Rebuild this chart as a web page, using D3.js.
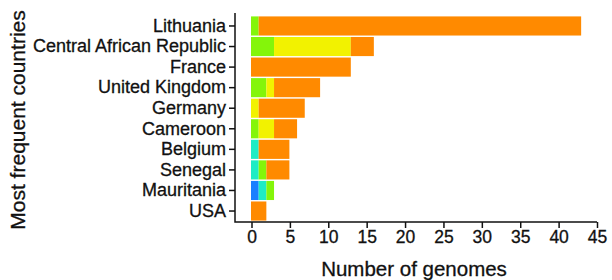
<!DOCTYPE html>
<html>
<head>
<meta charset="utf-8">
<script src="https://cdn.jsdelivr.net/npm/d3@7"></script>
<style>
  body { margin: 0; background: #fff; }
  svg text { font-family: "Liberation Sans", Arial, sans-serif; fill: #111; stroke: #111; stroke-width: 0.3px; }
</style>
</head>
<body>
<div id="chart"></div>
<script>
// genome counts per country, stacked by group (colours as in the figure)
const countries = ["Lithuania", "Central African Republic", "France", "United Kingdom", "Germany",
  "Cameroon", "Belgium", "Senegal", "Mauritania", "USA"];
const blue   = [0, 0, 0, 0, 0, 0, 0, 0, 1, 0];
const cyan   = [0, 0, 0, 0, 0, 0, 1, 1, 1, 0];
const green  = [1, 3, 0, 2, 0, 1, 0, 1, 1, 0];
const yellow = [0, 10, 0, 1, 1, 2, 0, 0, 0, 0];
const orange = [42, 3, 13, 6, 6, 3, 4, 3, 0, 2];
const xTicks = [0, 5, 10, 15, 20, 25, 30, 35, 40, 45];

(function() {
  const width = 612, height = 280;
  const panel = { left: 235, right: 597, top: 13, bottom: 222 };

  const keys = ["blue", "cyan", "green", "yellow", "orange"];
  const colors = { blue: "#1a7fff", cyan: "#1eecc4", green: "#84f50a", yellow: "#f2f200", orange: "#ff8a00" };
  const series = { blue, cyan, green, yellow, orange };
  const rows = countries.map((c, i) => {
    const r = { country: c };
    keys.forEach(k => { r[k] = series[k][i]; });
    return r;
  });

  const svg = d3.select('#chart').append('svg')
    .attr('width', width)
    .attr('height', height);

  const x = d3.scaleLinear().domain([0, 45]).range([251.5, 597]);
  const y = d3.scaleBand()
    .domain(countries)
    .range([16, 221])
    .paddingInner(0.07)
    .paddingOuter(0.02);

  const stacked = d3.stack().keys(keys)(rows);

  svg.append('g')
    .selectAll('g')
    .data(stacked)
    .join('g')
    .attr('fill', d => colors[d.key])
    .selectAll('rect')
    .data(d => d.filter(s => s[1] > s[0]))
    .join('rect')
    .attr('x', d => x(d[0]) - 0.5)
    .attr('y', d => y(d.data.country))
    .attr('width', d => x(d[1]) - x(d[0]))
    .attr('height', y.bandwidth());

  // axis lines (L shape)
  svg.append('path')
    .attr('d', `M${panel.left},${panel.top}V${panel.bottom}H${panel.right}`)
    .attr('fill', 'none')
    .attr('stroke', '#111')
    .attr('stroke-width', 1.5);

  const xAxis = svg.append('g')
    .attr('transform', `translate(0,${panel.bottom})`)
    .call(d3.axisBottom(x).tickValues(xTicks).tickSize(6).tickPadding(3));
  xAxis.select('.domain').remove();
  xAxis.selectAll('line').attr('stroke', '#111').attr('stroke-width', 1.5);
  xAxis.selectAll('text').style('font-size', '17.5px').attr('fill', '#111');

  const yAxis = svg.append('g')
    .attr('transform', `translate(${panel.left},0)`)
    .call(d3.axisLeft(y).tickSize(6).tickPadding(3));
  yAxis.select('.domain').remove();
  yAxis.selectAll('line').attr('stroke', '#111').attr('stroke-width', 1.5);
  yAxis.selectAll('text').style('font-size', '18px').attr('fill', '#111');

  svg.append('text')
    .attr('x', 414)
    .attr('y', 276)
    .attr('text-anchor', 'middle')
    .style('font-size', '20.5px')
    .text('Number of genomes');

  svg.append('text')
    .attr('transform', 'translate(25,120) rotate(-90)')
    .attr('text-anchor', 'middle')
    .style('font-size', '21px')
    .text('Most frequent countries');
})();
</script>
</body>
</html>
